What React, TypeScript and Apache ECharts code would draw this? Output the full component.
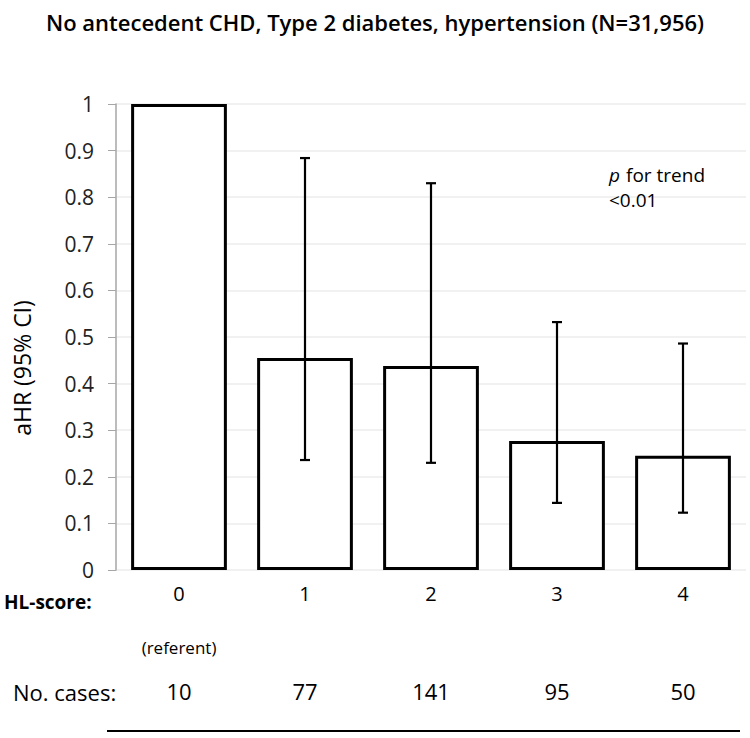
import React, { useEffect, useRef } from "react";
import * as echarts from "echarts";

const categories = ["0", "1", "2", "3", "4"];
const hrValues = [1, 0.455, 0.438, 0.277, 0.245];
const ciLower = [null, 0.236, 0.23, 0.144, 0.123];
const ciUpper = [null, 0.884, 0.83, 0.532, 0.486];
const referentRow = ["(referent)", "", "", "", ""];
const caseCounts = ["10", "77", "141", "95", "50"];
const yTicks = { min: 0, max: 1, interval: 0.1 };

const FONT = "'Open Sans', 'Noto Sans', sans-serif";

export default function App() {
  const ref = useRef<HTMLDivElement>(null);
  useEffect(() => {
    if (!ref.current) return;
    const chart = echarts.init(ref.current, null, { renderer: "svg" });
    const errData = categories
      .map((c, i) => (ciLower[i] == null ? null : [i, ciLower[i], ciUpper[i]]))
      .filter((d) => d !== null);
    const hiddenAxis = (offset: number, margin: number, size: number, data: string[]) => ({
      type: "category",
      data,
      position: "bottom",
      offset,
      axisLine: { show: false },
      axisTick: { show: false },
      axisLabel: { margin, fontSize: size, color: "#000", fontFamily: FONT, interval: 0 },
    });
    const txt = (text: string, x: number, y: number, size: number, extra: any = {}) => ({
      type: "text",
      x,
      y,
      z: 100,
      style: {
        text,
        fontSize: size,
        fontFamily: FONT,
        fill: "#000",
        align: "left",
        verticalAlign: "middle",
        ...extra,
      },
    });
    chart.setOption({
      animation: false,
      backgroundColor: "#fff",
      title: {
        text: "No antecedent CHD, Type 2 diabetes, hypertension (N=31,956)",
        left: "center",
        top: 6,
        textStyle: { fontFamily: FONT, fontSize: 22, fontWeight: 600, color: "#000" },
      },
      grid: { left: 116, right: 4, top: 104, bottom: 168 },
      xAxis: [
        {
          type: "category",
          data: categories,
          axisLine: { show: false },
          axisTick: { show: false },
          axisLabel: { margin: 13, fontSize: 20, color: "#000", fontFamily: FONT },
        },
        hiddenAxis(60, 9, 17, referentRow),
        hiddenAxis(100, 10, 22, caseCounts),
      ],
      yAxis: {
        type: "value",
        min: yTicks.min,
        max: yTicks.max,
        interval: yTicks.interval,
        axisLine: { show: true, lineStyle: { color: "#a6a6a6", width: 1.5 } },
        axisTick: { show: true, length: 8, lineStyle: { color: "#a6a6a6" } },
        axisLabel: {
          margin: 22,
          fontSize: 21,
          color: "#222",
          fontFamily: FONT,
          formatter: (v: number) => String(Math.round(v * 10) / 10),
        },
        splitLine: { lineStyle: { color: "#ececec", width: 1.5 } },
      },
      series: [
        {
          type: "bar",
          data: hrValues,
          barWidth: "76%",
          itemStyle: { color: "#fff", borderColor: "#000", borderWidth: 3 },
        },
        {
          type: "custom",
          data: errData,
          z: 10,
          renderItem: (params: any, api: any) => {
            const x = api.value(0);
            const lo = api.coord([x, api.value(1)]);
            const hi = api.coord([x, api.value(2)]);
            const cap = 5;
            const style = { stroke: "#000", lineWidth: 2.2 };
            return {
              type: "group",
              children: [
                { type: "line", shape: { x1: lo[0], y1: lo[1], x2: hi[0], y2: hi[1] }, style },
                { type: "line", shape: { x1: hi[0] - cap, y1: hi[1], x2: hi[0] + cap, y2: hi[1] }, style },
                { type: "line", shape: { x1: lo[0] - cap, y1: lo[1], x2: lo[0] + cap, y2: lo[1] }, style },
              ],
            };
          },
        },
      ],
      graphic: [
        {
          type: "text",
          x: 22,
          y: 368,
          z: 100,
          rotation: Math.PI / 2,
          style: {
            text: "aHR (95% CI)",
            fontSize: 23,
            fontFamily: FONT,
            fill: "#000",
            align: "center",
            verticalAlign: "middle",
          },
        },
        txt("HL-score:", 4, 602, 19, { fontWeight: "bold" }),
        txt("No. cases:", 13, 692, 22),
        txt("p", 609, 175, 19, { fontStyle: "italic" }),
        txt("for trend", 626, 175, 19),
        txt("<0.01", 609, 200, 19),
        {
          type: "line",
          z: 100,
          shape: { x1: 107, y1: 731, x2: 740, y2: 731 },
          style: { stroke: "#000", lineWidth: 2 },
        },
      ],
    });
    return () => chart.dispose();
  }, []);
  return (
    <div
      ref={ref}
      style={{ position: "fixed", left: 0, top: 0, width: 750, height: 738 }}
    />
  );
}
